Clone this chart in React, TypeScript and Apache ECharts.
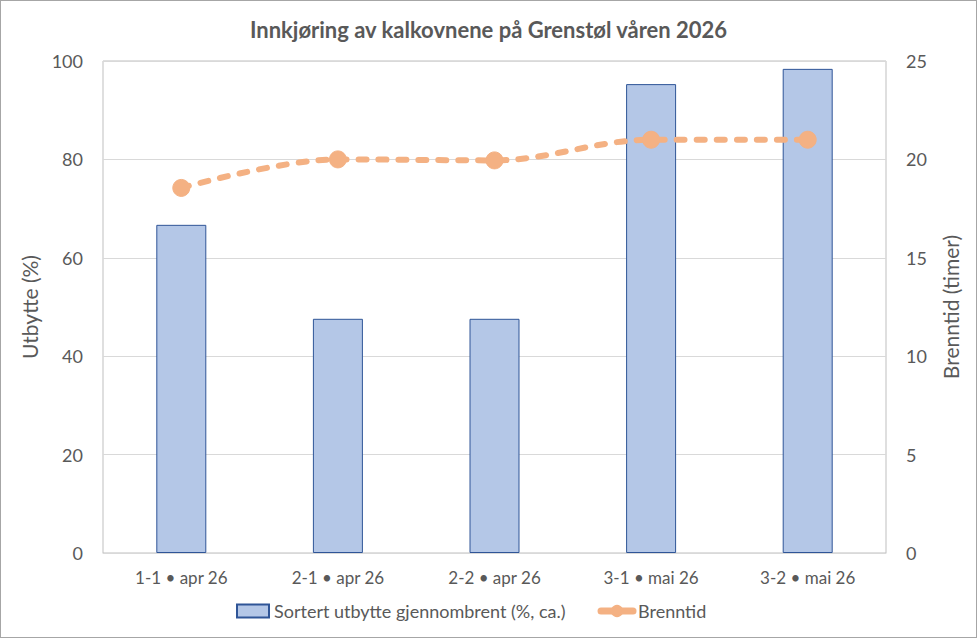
import React, { useEffect, useRef } from "react";
import * as echarts from "echarts";

const categories = ["1-1 • apr 26", "2-1 • apr 26", "2-2 • apr 26", "3-1 • mai 26", "3-2 • mai 26"];
const yieldValues = [66.7, 47.6, 47.6, 95.3, 98.4];
const burnHours = [18.55, 20.0, 19.95, 21.0, 21.0];
const leftTicks = [0, 20, 40, 60, 80, 100];
const rightTicks = [0, 5, 10, 15, 20, 25];

const FONT = "Lato, 'Open Sans', sans-serif";
const TXT = "#595959";

export default function App() {
  const ref = useRef<HTMLDivElement>(null);
  useEffect(() => {
    document.body.style.margin = "0";
    if (!ref.current) return;
    const chart = echarts.init(ref.current, null, { renderer: "svg" });
    chart.setOption({
      animation: false,
      backgroundColor: "#ffffff",
      textStyle: { fontFamily: FONT, color: TXT },
      title: {
        text: "Innkjøring av kalkovnene på Grenstøl våren 2026",
        left: "center",
        top: 12,
        textStyle: { fontFamily: FONT, fontSize: 22, fontWeight: "bold", color: TXT },
      },
      grid: {
        left: 102,
        top: 60,
        width: 783,
        height: 492,
        show: true,
        borderColor: "#BFBFBF",
        borderWidth: 1,
        containLabel: false,
      },
      legend: {
        bottom: 12,
        left: 230,
        itemGap: 32,
        itemWidth: 32,
        itemHeight: 13,
        itemTextGap: 3,
        textStyle: { fontFamily: FONT, fontSize: 18, color: TXT },
        data: [
          { name: "Sortert utbytte gjennombrent (%, ca.)", icon: "rect" },
          {
            name: "Brenntid",
            lineStyle: { type: "solid", width: 7, color: "#F4B183" },
          },
        ],
      },
      xAxis: {
        type: "category",
        data: categories,
        axisLine: { show: true, lineStyle: { color: "#D9D9D9" } },
        axisTick: { show: false },
        axisLabel: { fontFamily: FONT, fontSize: 17, color: TXT, margin: 16 },
      },
      yAxis: [
        {
          type: "value",
          min: leftTicks[0],
          max: leftTicks[leftTicks.length - 1],
          interval: 20,
          name: "Utbytte (%)",
          nameLocation: "middle",
          nameGap: 63,
          nameTextStyle: { fontFamily: FONT, fontSize: 21, color: TXT },
          axisLine: { show: false },
          axisTick: { show: false },
          axisLabel: { fontFamily: FONT, fontSize: 18, color: TXT, margin: 20 },
          splitLine: { show: true, lineStyle: { color: "#D9D9D9", width: 1 } },
        },
        {
          type: "value",
          min: rightTicks[0],
          max: rightTicks[rightTicks.length - 1],
          interval: 5,
          name: "Brenntid (timer)",
          nameLocation: "middle",
          nameGap: 54,
          nameTextStyle: { fontFamily: FONT, fontSize: 21, color: TXT },
          axisLine: { show: false },
          axisTick: { show: false },
          axisLabel: { fontFamily: FONT, fontSize: 18, color: TXT, margin: 20 },
          splitLine: { show: false },
        },
      ],
      series: [
        {
          name: "Sortert utbytte gjennombrent (%, ca.)",
          type: "bar",
          data: yieldValues,
          barWidth: 50,
          itemStyle: { color: "#B4C7E7", borderColor: "#2F5597", borderWidth: 1 },
        },
        {
          name: "Brenntid",
          type: "line",
          yAxisIndex: 1,
          data: burnHours,
          smooth: 0.35,
          symbol: "circle",
          symbolSize: 17,
          lineStyle: { color: "#F4B183", width: 6, type: [8, 12], cap: "round" },
          itemStyle: { color: "#F4B183", borderColor: "#F4B183", borderWidth: 1 },
        },
      ],
    });
    return () => chart.dispose();
  }, []);
  return (
    <div
      style={{
        width: 977,
        height: 638,
        boxSizing: "border-box",
        border: "1px solid #A6A6A6",
        background: "#fff",
      }}
    >
      <div ref={ref} style={{ width: 975, height: 636 }} />
    </div>
  );
}
